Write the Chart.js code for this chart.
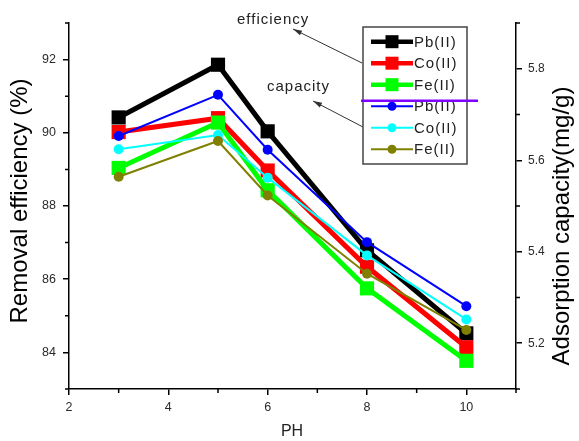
<!DOCTYPE html>
<html>
<head>
<meta charset="utf-8">
<script src="https://cdn.jsdelivr.net/npm/chart.js@4/dist/chart.umd.min.js"></script>
<style>
  html, body { margin: 0; padding: 0; background: #fff; }
  #wrap { width: 579px; height: 441px; }
</style>
</head>
<body>
<div id="wrap"><canvas id="c" width="579" height="441"></canvas></div>
<script>
// ---- data ----
const pH = [3, 5, 6, 8, 10];
const seriesLabels = ['Pb(II)', 'Co(II)', 'Fe(II)', 'Pb(II)', 'Co(II)', 'Fe(II)'];
const effPb = [90.42, 91.86, 90.04, 86.79, 84.52];
const effCo = [90.02, 90.40, 88.97, 86.34, 84.14];
const effFe = [89.04, 90.28, 88.43, 85.75, 83.77];
const capPb = [5.653, 5.743, 5.623, 5.421, 5.281];
const capCo = [5.624, 5.655, 5.562, 5.392, 5.252];
const capFe = [5.564, 5.642, 5.523, 5.352, 5.229];
const xTicks = [2, 4, 6, 8, 10];
const yLeftTicks = [84, 86, 88, 90, 92];
const yRightTicks = [5.2, 5.4, 5.6, 5.8];
const xMinor = [3, 5, 7, 9, 11];
const yLeftMinor = [83, 85, 87, 89, 91, 93];
const yRightMinor = [5.1, 5.3, 5.5, 5.7, 5.9];
const annotations = ['efficiency', 'capacity'];
const titles = { x: 'PH', left: 'Removal efficiency (%)', right: 'Adsorption capacity(mg/g)' };

const FONT = "'Liberation Sans', Arial, Helvetica, sans-serif";
const colors = ['#000000', '#ff0000', '#00ff00', '#0000ff', '#00ffff', '#808000'];

function pts(arr) { return arr.map((v, i) => ({ x: pH[i], y: v })); }

function effDS(i, arr, order) {
  return {
    label: seriesLabels[i], data: pts(arr), yAxisID: 'y',
    borderColor: colors[i], backgroundColor: colors[i],
    borderWidth: 5, pointStyle: 'rect', pointRadius: 10,
    pointBorderWidth: 0, pointBackgroundColor: colors[i], pointBorderColor: colors[i],
    tension: 0, order: order
  };
}
function capDS(i, arr, order) {
  return {
    label: seriesLabels[i], data: pts(arr), yAxisID: 'y2',
    borderColor: colors[i], backgroundColor: colors[i],
    borderWidth: 2, pointStyle: 'circle', pointRadius: 5,
    pointBorderWidth: 0, pointBackgroundColor: colors[i], pointBorderColor: colors[i],
    tension: 0, order: order
  };
}

const decor = {
  id: 'decor',
  afterDraw(chart) {
    const ctx = chart.ctx;
    const xs = chart.scales.x, yl = chart.scales.y, yr = chart.scales.y2;
    const ca = chart.chartArea;
    ctx.save();
    // minor ticks
    ctx.strokeStyle = '#000'; ctx.lineWidth = 1.5;
    ctx.beginPath();
    xMinor.forEach(v => { const p = xs.getPixelForValue(v); ctx.moveTo(p, ca.bottom); ctx.lineTo(p, ca.bottom + 4); });
    yLeftMinor.forEach(v => { const p = yl.getPixelForValue(v); ctx.moveTo(ca.left, p); ctx.lineTo(ca.left - 4, p); });
    yRightMinor.forEach(v => { const p = yr.getPixelForValue(v); ctx.moveTo(ca.right, p); ctx.lineTo(ca.right + 4, p); });
    ctx.stroke();

    // axis titles
    ctx.fillStyle = '#000';
    ctx.textAlign = 'center'; ctx.textBaseline = 'middle';
    ctx.font = '24px ' + FONT;
    ctx.save(); ctx.translate(20, 201); ctx.rotate(-Math.PI / 2); ctx.fillText(titles.left, 0, 0); ctx.restore();
    ctx.save(); ctx.translate(562, 226); ctx.rotate(-Math.PI / 2); ctx.fillText(titles.right, 0, 0); ctx.restore();
    ctx.font = '16px ' + FONT;
    ctx.fillStyle = '#222';
    ctx.fillText(titles.x, 292, 432);

    // annotations with arrows
    ctx.font = '15px ' + FONT;
    ctx.letterSpacing = '1px';
    ctx.textAlign = 'left';
    ctx.fillStyle = '#222';
    ctx.fillText(annotations[0], 237, 20);
    ctx.fillText(annotations[1], 267, 87);
    ctx.letterSpacing = '0px';
    function arrow(x1, y1, x2, y2) {
      ctx.strokeStyle = '#333'; ctx.lineWidth = 1;
      ctx.beginPath(); ctx.moveTo(x1, y1); ctx.lineTo(x2, y2); ctx.stroke();
      const a = Math.atan2(y2 - y1, x2 - x1), L = 9, W = 2.6;
      ctx.fillStyle = '#333';
      ctx.beginPath();
      ctx.moveTo(x2, y2);
      ctx.lineTo(x2 - L * Math.cos(a) + W * Math.sin(a), y2 - L * Math.sin(a) - W * Math.cos(a));
      ctx.lineTo(x2 - L * Math.cos(a) - W * Math.sin(a), y2 - L * Math.sin(a) + W * Math.cos(a));
      ctx.closePath(); ctx.fill();
    }
    arrow(362, 63, 293, 29);
    arrow(363, 127, 313, 101);

    // legend box
    const bx = 363, by = 27, bw = 104, bh = 137;
    ctx.fillStyle = '#fff';
    ctx.fillRect(bx, by, bw, bh);
    ctx.strokeStyle = '#444'; ctx.lineWidth = 1.5;
    ctx.strokeRect(bx, by, bw, bh);
    chart.data.datasets.forEach((ds, i) => {
      const y = 41.7 + i * 21.5;
      const isEff = i < 3;
      ctx.strokeStyle = ds.borderColor;
      ctx.lineWidth = isEff ? 4.5 : 2;
      ctx.beginPath(); ctx.moveTo(371, y); ctx.lineTo(413, y); ctx.stroke();
      ctx.fillStyle = ds.borderColor;
      if (isEff) { ctx.fillRect(385.5, y - 6.5, 13, 13); }
      else { ctx.beginPath(); ctx.arc(392, y, 4.5, 0, Math.PI * 2); ctx.fill(); }
      ctx.fillStyle = '#222';
      ctx.font = '15px ' + FONT;
      ctx.letterSpacing = '1px';
      ctx.textAlign = 'left'; ctx.textBaseline = 'middle';
      ctx.fillText(ds.label, 414, y + 1);
      ctx.letterSpacing = '0px';
    });
    // purple separator line
    ctx.strokeStyle = '#8000ff'; ctx.lineWidth = 2.5;
    ctx.beginPath(); ctx.moveTo(361, 100.7); ctx.lineTo(478, 100.7); ctx.stroke();
    ctx.restore();
  }
};

const tickFont = { family: FONT, size: 12.5 };

new Chart(document.getElementById('c'), {
  type: 'line',
  data: {
    datasets: [
      effDS(0, effPb, 6), effDS(1, effCo, 5), effDS(2, effFe, 4),
      capDS(3, capPb, 3), capDS(4, capCo, 2), capDS(5, capFe, 1)
    ]
  },
  options: {
    responsive: false,
    animation: false,
    devicePixelRatio: 1,
    layout: { padding: { top: 23, left: 0, right: 0, bottom: 0 } },
    plugins: { legend: { display: false }, tooltip: { enabled: false } },
    scales: {
      x: {
        type: 'linear', min: 2, max: 11,
        afterBuildTicks: s => { s.ticks = xTicks.map(v => ({ value: v })); },
        afterFit: s => { s.height = 52; },
        grid: { display: true, drawOnChartArea: false, tickLength: 6, color: '#000', lineWidth: 1.5 },
        border: { display: true, color: '#000', width: 1.5 },
        ticks: { color: '#2a2a2a', font: tickFont, padding: 5, maxRotation: 0 }
      },
      y: {
        type: 'linear', position: 'left', min: 83, max: 93,
        afterBuildTicks: s => { s.ticks = yLeftTicks.map(v => ({ value: v })); },
        afterFit: s => { s.width = 69; },
        grid: { display: true, drawOnChartArea: false, tickLength: 6, color: '#000', lineWidth: 1.5 },
        border: { display: true, color: '#000', width: 1.5 },
        ticks: { color: '#2a2a2a', font: tickFont, padding: 7 }
      },
      y2: {
        type: 'linear', position: 'right', min: 5.1, max: 5.9,
        afterBuildTicks: s => { s.ticks = yRightTicks.map(v => ({ value: v })); },
        afterFit: s => { s.width = 63; },
        grid: { display: true, drawOnChartArea: false, tickLength: 6, color: '#000', lineWidth: 1.5 },
        border: { display: true, color: '#000', width: 1.5 },
        ticks: { color: '#2a2a2a', font: { family: FONT, size: 12 }, padding: 6,
                 callback: v => Number(v).toFixed(1) }
      }
    }
  },
  plugins: [decor]
});
</script>
</body>
</html>
